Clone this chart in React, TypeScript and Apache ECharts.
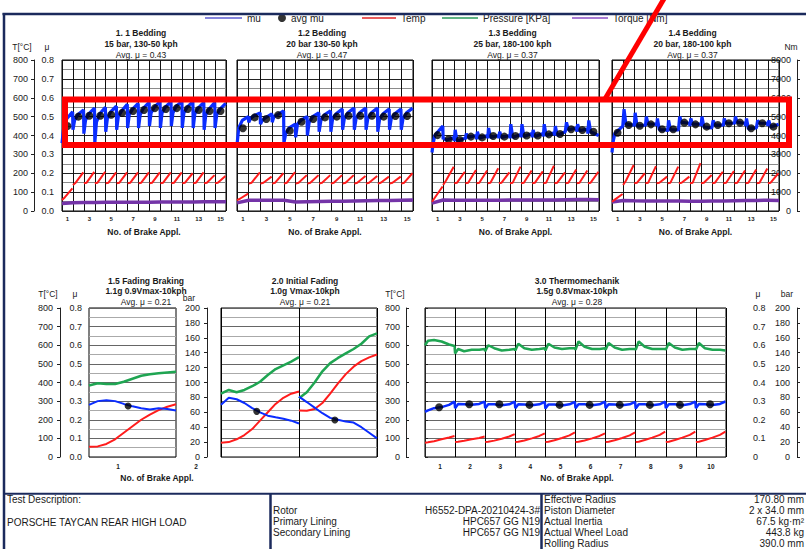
import React, { useEffect, useRef } from "react";
import * as echarts from "echarts";

// ---------- DATA ----------
const topCycleLabels = ["1","2","3","4","5","6","7","8","9","10","11","12","13","14","15"];
const thermoLabels = ["1","2","3","4","5","6","7","8","9","10"];

// per-cycle mu samples (rising cycles): start, knee, mid, end
const p1Mu = [
  [0.36,0.44,0.49,0.525],[0.43,0.48,0.51,0.535],[0.41,0.48,0.515,0.545],[0.36,0.47,0.515,0.55],
  [0.42,0.49,0.525,0.555],[0.43,0.50,0.53,0.565],[0.44,0.51,0.54,0.57],[0.44,0.51,0.545,0.575],
  [0.45,0.52,0.55,0.58],[0.44,0.52,0.55,0.58],[0.45,0.52,0.555,0.58],[0.44,0.52,0.55,0.58],
  [0.44,0.515,0.545,0.575],[0.43,0.51,0.54,0.575],[0.44,0.51,0.54,0.57],
];
const p1Avg = [0.45,0.50,0.505,0.505,0.51,0.52,0.53,0.535,0.545,0.54,0.545,0.54,0.535,0.53,0.53];
const p1Temp = [[58,72,120],[138,150,205],[147,150,207],[147,150,208],[147,150,205],[147,150,205],[147,150,205],[147,150,205],[147,150,205],[147,150,205],[147,150,205],[147,150,200],[147,150,205],[147,150,190],[147,150,185]];
const p1Torque = [400,440,450,450,460,460,470,470,470,480,480,480,480,490,490,490];

const p2Mu = [
  [0.35,0.44,0.48,0.50],[0.47,0.49,0.505,0.52],[0.46,0.48,0.495,0.515],[0.47,0.50,0.51,0.53],
  [0.36,0.41,0.44,0.46],[0.39,0.46,0.48,0.50],[0.40,0.47,0.50,0.52],[0.42,0.48,0.51,0.53],
  [0.42,0.49,0.515,0.54],[0.43,0.49,0.52,0.545],[0.43,0.49,0.52,0.545],[0.43,0.49,0.52,0.545],
  [0.42,0.485,0.515,0.54],[0.43,0.49,0.515,0.54],[0.43,0.49,0.52,0.545],
];
const p2Avg = [0.438,0.496,0.487,0.508,0.425,0.473,0.487,0.496,0.50,0.505,0.505,0.505,0.50,0.503,0.503];
const p2Temp = [[58,65,92],[145,150,205],[145,150,182],[145,150,200],[145,150,206],[145,150,190],[145,150,190],[145,150,190],[145,150,190],[145,150,190],[145,150,185],[145,150,185],[145,150,182],[145,150,182],[145,150,200]];
const p2Torque = [430,570,570,570,570,480,490,500,510,520,530,540,550,560,570,580];

// per-cycle mu samples (spiky cycles): start, spike, base, end
const p3Mu = [
  [0.31,0.35,0.40,0.45],[0.38,0.385,0.375,0.39],[0.37,0.43,0.37,0.385],[0.38,0.41,0.39,0.40],
  [0.38,0.42,0.385,0.40],[0.385,0.44,0.39,0.40],[0.385,0.42,0.39,0.40],[0.385,0.46,0.39,0.405],
  [0.39,0.46,0.395,0.41],[0.39,0.43,0.395,0.41],[0.395,0.46,0.40,0.415],[0.40,0.45,0.40,0.42],
  [0.42,0.47,0.43,0.44],[0.42,0.46,0.425,0.435],[0.41,0.48,0.42,0.40],
];
const p3Avg = [0.402,0.38,0.376,0.394,0.39,0.397,0.394,0.397,0.40,0.40,0.406,0.408,0.433,0.429,0.42];
const p3Temp = [[49,70,130],[138,160,235],[147,150,208],[147,150,217],[147,150,215],[147,150,226],[147,150,205],[147,150,235],[147,150,215],[147,150,210],[147,150,240],[147,150,205],[147,150,220],[147,150,215],[147,150,208]];
const p3Torque = [420,580,570,570,570,575,575,580,580,580,580,585,600,610,610,590];

const p4Mu = [
  [0.31,0.36,0.41,0.45],[0.45,0.54,0.46,0.455],[0.45,0.52,0.45,0.455],[0.45,0.50,0.46,0.46],
  [0.45,0.49,0.43,0.43],[0.42,0.48,0.43,0.43],[0.43,0.50,0.47,0.465],[0.45,0.49,0.46,0.46],
  [0.45,0.50,0.445,0.44],[0.44,0.48,0.455,0.455],[0.45,0.49,0.465,0.465],[0.46,0.50,0.47,0.465],
  [0.45,0.49,0.435,0.44],[0.44,0.48,0.465,0.465],[0.45,0.48,0.445,0.46],
];
const p4Avg = [0.415,0.456,0.452,0.459,0.433,0.433,0.468,0.459,0.447,0.456,0.465,0.468,0.438,0.465,0.447];
const p4Temp = [[49,60,90],[138,160,244],[147,150,200],[147,150,238],[147,150,182],[147,150,235],[147,150,182],[147,150,253],[147,150,191],[147,150,208],[147,150,212],[147,150,215],[147,150,220],[147,150,225],[147,150,200]];
const p4Torque = [480,560,540,530,530,530,530,520,520,530,530,540,550,560,570,560];

// 1.5 Fading Braking (11 samples over the stop)
const p5Mu = [0.28,0.30,0.305,0.30,0.285,0.272,0.262,0.255,0.262,0.258,0.25];
const p5Pressure = [96,99,98,98,101,105,109,111,112.5,113.5,114.5];
const p5Temp = [55,57,70,95,130,165,200,228,252,270,283];
const p5AvgMu = [[0.45,0.274]];

// 2.0 Initial Fading (two stops, 11 samples each)
const p6Mu = [[0.28,0.318,0.31,0.29,0.262,0.24,0.222,0.213,0.205,0.195,0.18],[0.324,0.295,0.265,0.235,0.21,0.20,0.19,0.185,0.16,0.13,0.10]];
const p6Pressure = [[85,90,87,90,95,101,110,118,123,128,134],[79,87,100,115,126,133,139,145,152,162,166]];
const p6Temp = [[77,80,95,118,150,195,240,285,318,340,352],[250,248,258,290,340,395,445,485,515,535,550]];
const p6AvgMu = [[0.458,0.245],[1.46,0.199]];

// 3.0 Thermomechanik (10 stops, 6 samples each)
const p7Pressure = [[150,156,157,155,151,149],[139,145,142,144,144,145],[142,150,146,143,144,145],[143,152,146,144,145,146],[143,152,147,145,146,146],[144,155,148,145,145,146],[144,153,147,144,145,145],[144,155,148,145,145,145],[144,153,147,144,145,145],[144,153,146,144,144,143]];
const p7Mu = [[0.243,0.25,0.262,0.268,0.28,0.297],[0.262,0.285,0.283,0.28,0.285,0.297],[0.262,0.283,0.283,0.278,0.283,0.297],[0.262,0.283,0.282,0.278,0.283,0.296],[0.26,0.282,0.282,0.277,0.283,0.296],[0.262,0.283,0.283,0.278,0.283,0.297],[0.262,0.283,0.282,0.278,0.283,0.296],[0.26,0.283,0.283,0.278,0.283,0.297],[0.262,0.283,0.283,0.278,0.284,0.297],[0.262,0.284,0.283,0.279,0.285,0.298]];
const p7Avg = [0.267,0.283,0.283,0.28,0.28,0.28,0.28,0.28,0.28,0.283];
const p7Temp = [[77,79,85,95,105,113],[80,82,87,95,102,110],[80,82,88,98,110,123],[80,82,89,100,113,127],[80,82,90,102,116,132],[80,82,89,100,113,127],[80,82,90,102,116,132],[80,82,91,104,119,136],[80,82,91,104,119,136],[80,82,91,104,119,136]];

const panelTitles = [
  ["1. 1 Bedding","15 bar, 130-50 kph","Avg. μ = 0.43"],
  ["1.2 Bedding","20 bar 130-50 kph","Avg. μ = 0.47"],
  ["1.3 Bedding","25 bar, 180-100 kph","Avg. μ = 0.37"],
  ["1.4 Bedding","20 bar, 180-100 kph","Avg. μ = 0.37"],
  ["1.5 Fading Braking","1.1g 0.9Vmax-10kph","Avg. μ = 0.21"],
  ["2.0 Initial Fading","1.0g Vmax-10kph","Avg. μ = 0.21"],
  ["3.0 Thermomechanik","1.5g 0.8Vmax-10kph","Avg. μ = 0.28"],
];

const tableLeft = ["Test Description:", "PORSCHE TAYCAN REAR HIGH LOAD"];
const tableMidLabels = ["Rotor","Primary Lining","Secondary Lining"];
const tableMidValues = ["H6552-DPA-20210424-3#","HPC657 GG N19","HPC657 GG N19"];
const tableRightLabels = ["Effective Radius","Piston Diameter","Actual Inertia","Actual Wheel Load","Rolling Radius"];
const tableRightValues = ["170.80 mm","2 x 34.0 mm","67.5 kg·m²","443.8 kg","390.0 mm"];

// ---------- STYLE ----------
const FONT = "'Liberation Sans', Arial, Helvetica, sans-serif";
const BLUE = "#0a2cff";
const RED = "#ff1c1c";
const GREEN = "#1fa552";
const PURPLE = "#7434a8";
const NAVY = "#1b2a5c";
const TXT = "#1a1a1a";

const RISE_FRACS = [0, 0.15, 0.45, 0.97];
const SPIKE_FRACS = [0, 0.08, 0.25, 0.97];
const TEMP_FRACS = [0, 0.25, 0.95];
const STOP_FRACS = [0, 0.1, 0.2, 0.3, 0.4, 0.5, 0.6, 0.7, 0.8, 0.9, 1.0];
const THERMO_FRACS = [0, 0.1, 0.3, 0.55, 0.8, 0.98];

function cyclePoints(rows: number[][], fracs: number[], gap: boolean) {
  const out: any[] = [];
  rows.forEach((r, c) => {
    r.forEach((v, k) => out.push([c + fracs[k], v]));
    if (gap && c < rows.length - 1) out.push([c + 1, null]);
  });
  return out;
}

function buildOption() {
  const grids: any[] = [];
  const xAxes: any[] = [];
  const yAxes: any[] = [];
  const series: any[] = [];
  const graphic: any[] = [];

  const lbl = (extra: any = {}) => ({ fontSize: 9, color: TXT, fontFamily: FONT, ...extra });
  const addGrid = (left: number, top: number, width: number, height: number, show = true) => {
    grids.push({ left, top, width, height, show, borderColor: "#000", borderWidth: 1, backgroundColor: "transparent", containLabel: false, outerBoundsMode: "none" });
    return grids.length - 1;
  };
  const addX = (o: any) => { xAxes.push(o); return xAxes.length - 1; };
  const addY = (o: any) => { yAxes.push(o); return yAxes.length - 1; };
  const text = (t: string, x: number, y: number, size: number, opts: any = {}) => {
    graphic.push({ type: "text", x, y, z: 50, style: { text: t, fill: TXT, fontSize: size, fontFamily: FONT, fontWeight: opts.bold ? "bold" : "normal", align: opts.align || "center", verticalAlign: "middle" } });
  };
  const line = (x1: number, y1: number, x2: number, y2: number, stroke: string, w: number, z = 40) => {
    graphic.push({ type: "line", z, shape: { x1, y1, x2, y2 }, style: { stroke, lineWidth: w } });
  };
  const lineSeries = (name: string, xi: number, yi: number, data: any[], color: string, width: number, z = 2) => ({
    type: "line", name, xAxisIndex: xi, yAxisIndex: yi, data, showSymbol: false, symbol: "none",
    connectNulls: false, lineStyle: { color, width }, itemStyle: { color }, z, silent: true,
  });
  const dotSeries = (xi: number, yi: number, data: any[], size: number) => ({
    type: "scatter", name: "avg mu", xAxisIndex: xi, yAxisIndex: yi, data, symbolSize: size,
    itemStyle: { color: "#000" }, z: 5, silent: true,
  });
  const muLabel = (v: number) => v.toFixed(1);
  const plain = (v: number) => String(Math.round(v));

  // ----- top panels -----
  const TOP = [
    { left: 62, width: 164, mu: p1Mu, fr: RISE_FRACS, avg: p1Avg, temp: p1Temp, tq: p1Torque },
    { left: 237, width: 176, mu: p2Mu, fr: RISE_FRACS, avg: p2Avg, temp: p2Temp, tq: p2Torque },
    { left: 432, width: 167, mu: p3Mu, fr: SPIKE_FRACS, avg: p3Avg, temp: p3Temp, tq: p3Torque },
    { left: 612, width: 167, mu: p4Mu, fr: SPIKE_FRACS, avg: p4Avg, temp: p4Temp, tq: p4Torque },
  ];
  TOP.forEach((p, i) => {
    const g = addGrid(p.left, 60, p.width, 151);
    const xv = addX({ type: "value", gridIndex: g, min: 0, max: 15, interval: 1, position: "bottom",
      axisLine: { show: false }, axisTick: { show: false }, axisLabel: { show: false },
      splitLine: { show: true, lineStyle: { color: "#111", width: 1 } } });
    addX({ type: "category", gridIndex: g, data: topCycleLabels, boundaryGap: true, position: "bottom",
      axisLine: { show: false }, axisTick: { show: false }, splitLine: { show: false },
      axisLabel: lbl({ interval: 1, fontSize: 6, margin: 5, fontWeight: "bold" }) });
    const yMu = addY({ type: "value", gridIndex: g, min: 0, max: 0.8, interval: 0.1, position: "left",
      axisLine: { show: false }, axisTick: { show: false },
      axisLabel: lbl({ show: i === 0, formatter: muLabel, margin: 8 }),
      splitLine: { show: true, lineStyle: { color: "#222", width: 1 } },
      minorTick: { show: false, splitNumber: 2 },
      minorSplitLine: { show: true, lineStyle: { color: "#8a8a8a", width: 1 } } });
    const yT = addY({ type: "value", gridIndex: g, min: 0, max: 800, interval: 100, position: "left", offset: 28,
      show: i === 0, axisLine: { show: true, lineStyle: { color: "#222" } }, axisTick: { show: true, length: 3, lineStyle: { color: "#222" } },
      axisLabel: lbl({ margin: 6, formatter: plain }), splitLine: { show: false } });
    const yNm = addY({ type: "value", gridIndex: g, min: 0, max: 8000, interval: 1000, position: "right", offset: 18,
      show: i === 3, axisLine: { show: true, lineStyle: { color: "#222" } }, axisTick: { show: true, length: 3, lineStyle: { color: "#222" } },
      axisLabel: lbl({ inside: true, margin: 6, formatter: plain }), splitLine: { show: false } });

    series.push(lineSeries("Torque [Nm]", xv, yNm, p.tq.map((v, k) => [k, v]), PURPLE, 3.5, 2));
    series.push(lineSeries("Temp", xv, yT, cyclePoints(p.temp, TEMP_FRACS, true), RED, 2, 3));
    series.push(lineSeries("mu", xv, yMu, cyclePoints(p.mu, p.fr, false), BLUE, 3.2, 4));
    series.push(dotSeries(xv, yMu, p.avg.map((v, c) => [c + 0.5, v]), 8));

    const cx = p.left + p.width / 2;
    const t = panelTitles[i];
    text(t[0], cx - 3, 33, 8.5, { bold: true });
    text(t[1], cx - 3, 43.5, 8.5, { bold: true });
    text(t[2], cx - 3, 54.5, 8.5);
    text("No. of Brake Appl.", cx, 231.5, 8.5, { bold: true });
  });

  // ----- bottom panels -----
  const BT = 308, BH = 149;
  const muAxisBase = (g: number, extra: any) => ({
    type: "value", gridIndex: g, min: 0, max: 0.8, interval: 0.1,
    splitLine: { show: true, lineStyle: { color: "#666", width: 1 } },
    minorTick: { show: false, splitNumber: 2 },
    minorSplitLine: { show: true, lineStyle: { color: "#aaa", width: 1 } },
    ...extra,
  });
  const visAxis = { axisLine: { show: true, lineStyle: { color: "#222" } }, axisTick: { show: true, length: 3, lineStyle: { color: "#222" } } };

  // 1.5 Fading Braking
  {
    const g = addGrid(89, BT, 87, BH);
    const xv = addX({ type: "value", gridIndex: g, min: 0, max: 1, position: "bottom", axisLine: { show: false }, axisTick: { show: false }, axisLabel: { show: false }, splitLine: { show: false } });
    const yMu = addY(muAxisBase(g, { position: "left", axisLine: { show: false }, axisTick: { show: false }, axisLabel: lbl({ formatter: muLabel, margin: 7 }) }));
    const yT = addY({ type: "value", gridIndex: g, min: 0, max: 800, interval: 100, position: "left", offset: 29, ...visAxis, axisLabel: lbl({ margin: 7, formatter: plain }), splitLine: { show: false } });
    const yB = addY({ type: "value", gridIndex: g, min: 0, max: 200, interval: 20, show: false, position: "right" });
    series.push(lineSeries("Pressure [KPa]", xv, yB, p5Pressure.map((v, k) => [STOP_FRACS[k], v]), GREEN, 2.5, 2));
    series.push(lineSeries("Temp", xv, yT, p5Temp.map((v, k) => [STOP_FRACS[k], v]), RED, 2, 3));
    series.push(lineSeries("mu", xv, yMu, p5Mu.map((v, k) => [STOP_FRACS[k], v]), BLUE, 2, 4));
    series.push(dotSeries(xv, yMu, p5AvgMu, 7));
    // label axis for brake application numbers
    const gl = addGrid(40, BT, 156, BH, false);
    addX({ type: "value", gridIndex: gl, min: 0, max: 2, interval: 1, position: "bottom", axisLine: { show: false }, axisTick: { show: false }, splitLine: { show: false },
      axisLabel: lbl({ fontSize: 6.5, margin: 6, fontWeight: "bold", formatter: (v: number) => (v === 0 ? "" : String(v)) }) });
    addY({ type: "value", gridIndex: gl, min: 0, max: 1, show: false });
  }
  // 2.0 Initial Fading
  {
    const g = addGrid(221, BT, 156, BH);
    const xv = addX({ type: "value", gridIndex: g, min: 0, max: 2, interval: 1, position: "bottom", axisLine: { show: false }, axisTick: { show: false }, axisLabel: { show: false },
      splitLine: { show: true, lineStyle: { color: "#000", width: 1 } } });
    const yMu = addY(muAxisBase(g, { position: "left", axisLine: { show: false }, axisTick: { show: false }, axisLabel: { show: false } }));
    const yB = addY({ type: "value", gridIndex: g, min: 0, max: 200, interval: 20, position: "left", offset: 14, ...visAxis, axisLabel: lbl({ margin: 7, formatter: plain }), splitLine: { show: false } });
    const yT = addY({ type: "value", gridIndex: g, min: 0, max: 800, interval: 100, position: "right", offset: 29, ...visAxis, axisLabel: lbl({ inside: true, margin: 6, formatter: plain }), splitLine: { show: false } });
    series.push(lineSeries("Pressure [KPa]", xv, yB, cyclePoints(p6Pressure, STOP_FRACS, true), GREEN, 2.5, 2));
    series.push(lineSeries("Temp", xv, yT, cyclePoints(p6Temp, STOP_FRACS, true), RED, 2, 3));
    series.push(lineSeries("mu", xv, yMu, cyclePoints(p6Mu, STOP_FRACS, true), BLUE, 2, 4));
    series.push(dotSeries(xv, yMu, p6AvgMu, 7));
  }
  // 3.0 Thermomechanik
  {
    const g = addGrid(425, BT, 301, BH);
    const xv = addX({ type: "value", gridIndex: g, min: 0, max: 10, interval: 1, position: "bottom", axisLine: { show: false }, axisTick: { show: false }, axisLabel: { show: false },
      splitLine: { show: true, lineStyle: { color: "#000", width: 1 } } });
    addX({ type: "category", gridIndex: g, data: thermoLabels, boundaryGap: true, position: "bottom",
      axisLine: { show: false }, axisTick: { show: false }, splitLine: { show: false },
      axisLabel: lbl({ interval: 0, fontSize: 6.5, margin: 6, fontWeight: "bold" }) });
    const yMu = addY(muAxisBase(g, { position: "right", offset: 16, ...visAxis,
      axisLabel: lbl({ margin: 11, formatter: (v: number) => (v === 0 ? "0" : v.toFixed(1)) }) }));
    const yB = addY({ type: "value", gridIndex: g, min: 0, max: 200, interval: 20, position: "right", offset: 71, ...visAxis, axisLabel: lbl({ inside: true, margin: 7, formatter: plain }), splitLine: { show: false } });
    const yT = addY({ type: "value", gridIndex: g, min: 0, max: 800, interval: 100, position: "left", show: false });
    series.push(lineSeries("Pressure [KPa]", xv, yB, cyclePoints(p7Pressure, THERMO_FRACS, false), GREEN, 2.5, 2));
    series.push(lineSeries("Temp", xv, yT, cyclePoints(p7Temp, THERMO_FRACS, true), RED, 2, 3));
    series.push(lineSeries("mu", xv, yMu, cyclePoints(p7Mu, THERMO_FRACS, false), BLUE, 2.5, 4));
    series.push(dotSeries(xv, yMu, p7Avg.map((v, c) => [c + 0.47, v]), 8));
  }

  // bottom titles
  const bt = [[146, 5], [305, 6], [577, 7]];
  bt.forEach(([cx, k]) => {
    const t = panelTitles[(k as number) - 1];
    text(t[0], cx as number, 280.5, 8.5, { bold: true });
    text(t[1], cx as number, 290.5, 8.5, { bold: true });
    text(t[2], cx as number, 301.5, 8.5);
  });
  text("No. of Brake Appl.", 157, 477.5, 8.5, { bold: true });
  text("No. of Brake Appl.", 577, 477.5, 8.5, { bold: true });

  // axis headers
  text("T[°C]", 22, 47, 8.5);
  text("μ", 47, 47, 8.5);
  text("Nm", 791, 47, 8.5);
  text("T[°C]", 48, 293.5, 8.5);
  text("μ", 75, 293.5, 8.5);
  text("bar", 189, 298, 8.5);
  text("T[°C]", 395, 294, 8.5);
  text("μ", 758, 293.5, 8.5);
  text("bar", 787, 293.5, 8.5);

  // frame & table lines
  line(2.5, 14, 806, 14, NAVY, 2.5);
  line(4, 13, 4, 549, NAVY, 2.5);
  line(3, 493.7, 806, 493.7, NAVY, 2);
  line(270.5, 493, 270.5, 549, NAVY, 2.5);
  line(541.5, 493, 541.5, 549, NAVY, 2.5);

  // table texts
  const TS = 10;
  text(tableLeft[0], 7, 499, TS, { align: "left" });
  text(tableLeft[1], 7, 522.5, TS, { align: "left" });
  const midY = [510, 521, 532];
  tableMidLabels.forEach((t, k) => text(t, 273, midY[k], TS, { align: "left" }));
  tableMidValues.forEach((t, k) => text(t, 540, midY[k], TS, { align: "right" }));
  const rY = [499, 510, 521, 532, 543];
  tableRightLabels.forEach((t, k) => text(t, 544, rY[k], TS, { align: "left" }));
  tableRightValues.forEach((t, k) => text(t, 804, rY[k], TS, { align: "right" }));

  // red annotation
  graphic.push({ type: "rect", z: 100, shape: { x: 65, y: 99.5, width: 724, height: 45.5 }, style: { fill: "none", stroke: "#ff0000", lineWidth: 6 } });
  line(605, 99, 665, -3, "#ff0000", 5, 100);

  const legTxt = { fontSize: 10, color: "#222", fontFamily: FONT };
  const leg = (left: number, name: string, icon: string, color: string, w: number, h: number) => ({
    left, top: 13, padding: 0, selectedMode: false, icon, itemWidth: w, itemHeight: h,
    textStyle: legTxt, data: [{ name, icon, itemStyle: { color, borderWidth: 0 } }],
  });

  return {
    animation: false,
    backgroundColor: "#fff",
    textStyle: { fontFamily: FONT },
    legend: [
      leg(205, "mu", "rect", "#5b5bd2", 37, 1.5),
      leg(278, "avg mu", "circle", "#000", 8, 8),
      leg(362, "Temp", "rect", "#e02424", 34, 1.5),
      leg(442, "Pressure [KPa]", "rect", "#2a9a5a", 36, 1.5),
      leg(572, "Torque [Nm]", "rect", "#8a4cc4", 36, 1.5),
    ],
    grid: grids,
    xAxis: xAxes,
    yAxis: yAxes,
    series,
    graphic,
  };
}

export default function App() {
  const ref = useRef<HTMLDivElement>(null);
  useEffect(() => {
    if (!ref.current) return;
    const chart = echarts.init(ref.current, null, { renderer: "svg" });
    chart.setOption(buildOption() as any);
    return () => chart.dispose();
  }, []);
  return (
    <div
      ref={ref}
      style={{ position: "absolute", left: 0, top: 0, width: 806, height: 549, background: "#fff" }}
    />
  );
}
